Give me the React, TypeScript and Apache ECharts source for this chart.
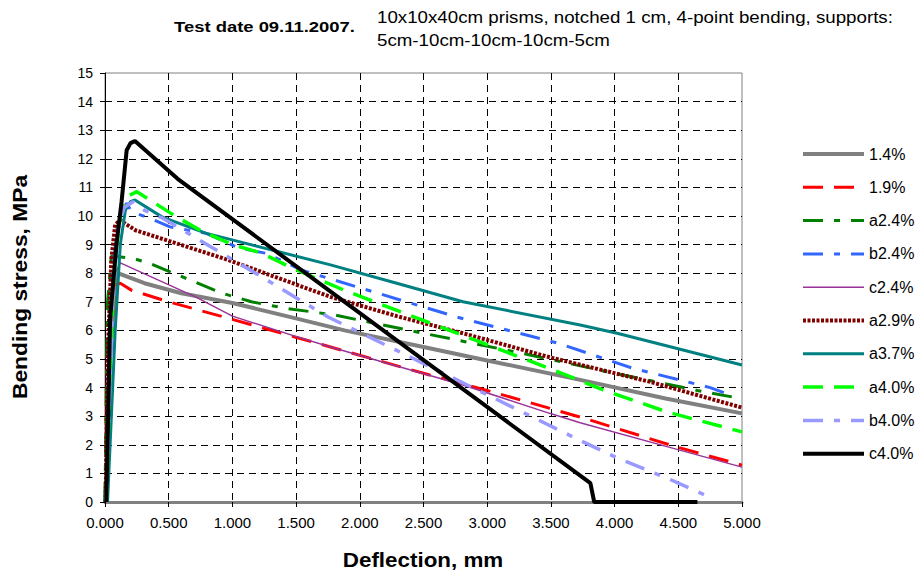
import React, { useEffect, useRef } from "react";
import * as echarts from "echarts";

// ---- Data (deflection mm, bending stress MPa) ----
const seriesNames = ["1.4%", "1.9%", "a2.4%", "b2.4%", "c2.4%", "a2.9%", "a3.7%", "a4.0%", "b4.0%", "c4.0%"];

const d14 = [0.0, 0.02, 0.04, 0.07, 0.1, 0.31, 0.6, 1.0, 1.49, 1.88, 2.5, 3.0, 3.73, 4.4, 5.0];
const s14 = [0.0, 2.0, 5.0, 7.0, 8.0, 7.65, 7.3, 6.96, 6.43, 6.0, 5.42, 4.95, 4.27, 3.62, 3.1];

const d19 = [0.01, 0.03, 0.05, 0.08, 0.12, 0.21, 0.5, 1.02, 1.49, 1.77, 2.5, 3.0, 3.73, 4.49, 5.0];
const s19 = [0.0, 3.0, 6.0, 7.6, 7.65, 7.4, 7.0, 6.36, 5.77, 5.42, 4.5, 3.9, 2.97, 1.92, 1.29];

const da24 = [0.0, 0.01, 0.02, 0.05, 0.21, 0.34, 0.92, 1.15, 1.41, 1.8, 2.5, 3.23, 3.95, 4.65, 4.95];
const sa24 = [0.0, 4.0, 7.0, 8.6, 8.53, 8.36, 7.3, 7.0, 6.78, 6.54, 5.9, 5.24, 4.55, 3.9, 3.65];

const db24 = [0.01, 0.03, 0.06, 0.1, 0.17, 0.21, 0.33, 0.51, 0.79, 1.05, 1.26, 1.55, 1.77, 2.76, 3.55, 4.14, 4.75, 4.93];
const sb24 = [0.0, 4.0, 8.0, 9.8, 10.45, 10.14, 9.96, 9.62, 9.4, 8.88, 8.7, 8.1, 7.8, 6.47, 5.56, 4.68, 4.0, 3.7];

const dc24 = [0.005, 0.02, 0.04, 0.06, 0.12, 0.71, 1.0, 1.49, 1.77, 2.81, 3.49, 3.73, 4.49, 5.0];
const sc24 = [0.0, 5.0, 7.0, 7.8, 8.36, 7.17, 6.5, 5.8, 5.42, 4.09, 3.1, 2.77, 1.84, 1.22];

const da29 = [0.005, 0.02, 0.05, 0.08, 0.12, 0.17, 0.24, 0.97, 1.77, 2.29, 2.81, 3.5, 4.28, 5.0];
const sa29 = [0.0, 5.0, 8.5, 9.7, 9.86, 9.7, 9.5, 8.46, 7.17, 6.5, 5.9, 5.05, 4.2, 3.3];

const da37 = [0.02, 0.04, 0.06, 0.08, 0.1, 0.12, 0.16, 0.2, 0.235, 0.45, 0.79, 1.77, 2.29, 2.81, 3.73, 4.02, 5.0];
const sa37 = [0.0, 2.0, 4.0, 6.0, 7.5, 9.0, 10.2, 10.5, 10.56, 9.96, 9.4, 8.29, 7.65, 7.0, 6.19, 5.9, 4.79];

const da40 = [0.01, 0.03, 0.05, 0.08, 0.12, 0.18, 0.25, 0.55, 0.76, 1.0, 1.23, 1.47, 1.88, 2.55, 3.0, 3.5, 3.91, 4.41, 5.0];
const sa40 = [0.0, 3.0, 6.0, 8.5, 10.0, 10.7, 10.85, 10.0, 9.47, 9.0, 8.7, 8.18, 7.4, 6.26, 5.5, 4.65, 3.92, 3.15, 2.45];

const db40 = [0.01, 0.03, 0.06, 0.1, 0.15, 0.22, 0.31, 0.45, 0.84, 1.23, 1.75, 2.29, 3.0, 3.73, 4.04, 4.41, 4.77];
const sb40 = [0.0, 3.0, 7.0, 9.5, 10.3, 10.5, 10.2, 9.93, 8.9, 7.87, 6.47, 5.3, 3.75, 2.15, 1.5, 0.84, 0.12];

const dc40 = [0.01, 0.025, 0.04, 0.09, 0.13, 0.17, 0.2, 0.235, 0.57, 3.81, 3.84, 4.65];
const sc40 = [0.0, 3.0, 6.4, 9.0, 10.5, 12.3, 12.55, 12.62, 11.3, 0.66, 0.0, 0.0];

const xTicks = { min: 0, max: 5, interval: 0.5 };
const yTicks = { min: 0, max: 15, interval: 1 };

const titleText = "Test date 09.11.2007.";
const subtitleLines = ["10x10x40cm prisms, notched 1 cm, 4-point bending, supports:", "5cm-10cm-10cm-10cm-5cm"];
const xTitle = "Deflection, mm";
const yTitle = "Bending stress, MPa";

const zip = (xs: number[], ys: number[]) => xs.map((x, i) => [x, ys[i]]);

const seriesData = [
  zip(d14, s14), zip(d19, s19), zip(da24, sa24), zip(db24, sb24), zip(dc24, sc24),
  zip(da29, sa29), zip(da37, sa37), zip(da40, sa40), zip(db40, sb40), zip(dc40, sc40),
];

const styles: any[] = [
  { color: "#808080", width: 4, type: "solid" },
  { color: "#FF0000", width: 3, type: [20, 11] },
  { color: "#008000", width: 3, type: [20, 11, 6, 11] },
  { color: "#3366FF", width: 3, type: [20, 11, 6, 11] },
  { color: "#993399", width: 1.5, type: "solid" },
  { color: "#800000", width: 4, type: [3, 1.5] },
  { color: "#008080", width: 3, type: "solid" },
  { color: "#00FF00", width: 3.5, type: [20, 11] },
  { color: "#9999FF", width: 3.5, type: [20, 11, 6, 11] },
  { color: "#000000", width: 4, type: "solid" },
];

const FONT = "'Liberation Sans', Arial, sans-serif";

export default function App() {
  const ref = useRef<HTMLDivElement>(null);
  useEffect(() => {
    if (!ref.current) return;
    const chart = echarts.init(ref.current, undefined, { renderer: "svg" });
    chart.setOption({
      animation: false,
      backgroundColor: "#ffffff",
      textStyle: { fontFamily: FONT },
      grid: {
        left: 105, right: 178, top: 73, bottom: 71,
        show: true, borderColor: "#808080", borderWidth: 1, backgroundColor: "transparent",
      },
      legend: {
        orient: "vertical",
        left: 801,
        top: 146,
        itemWidth: 61,
        itemHeight: 14,
        itemGap: 17.3,
        padding: 0,
        itemStyle: { opacity: 0 },
        textStyle: { fontSize: 16, color: "#000", fontFamily: FONT },
        data: seriesNames.map((name, i) => ({
          name,
          lineStyle: { width: styles[i].width, type: styles[i].type, color: styles[i].color },
        })),
      },
      graphic: [
        { type: "text", x: 174, y: 27, scaleX: 1.19, style: { text: titleText, font: `bold 15.5px ${FONT}`, fill: "#000", align: "left", verticalAlign: "middle" } },
        { type: "text", x: 377, y: 17, scaleX: 1.17, style: { text: subtitleLines[0], font: `16px ${FONT}`, fill: "#000", align: "left", verticalAlign: "middle" } },
        { type: "text", x: 377, y: 40, scaleX: 1.17, style: { text: subtitleLines[1], font: `16px ${FONT}`, fill: "#000", align: "left", verticalAlign: "middle" } },
        { type: "text", x: 423, y: 560, scaleX: 1.12, style: { text: xTitle, font: `bold 20px ${FONT}`, fill: "#000", align: "center", verticalAlign: "middle" } },
        { type: "text", x: 20, y: 287, rotation: Math.PI / 2, scaleX: 1.14, style: { text: yTitle, font: `bold 20px ${FONT}`, fill: "#000", align: "center", verticalAlign: "middle" } },
      ],
      xAxis: {
        type: "value",
        min: xTicks.min, max: xTicks.max, interval: xTicks.interval,
        axisLine: { onZero: false, lineStyle: { color: "#808080", width: 3 } },
        axisTick: { show: true, length: 5, lineStyle: { color: "#000" } },
        axisLabel: { fontSize: 15, color: "#000", margin: 13, formatter: (v: number) => v.toFixed(3) },
        splitLine: { show: true, showMinLine: false, showMaxLine: false, lineStyle: { color: "#000", type: [7, 5], width: 1 } },
      },
      yAxis: {
        type: "value",
        min: yTicks.min, max: yTicks.max, interval: yTicks.interval,
        axisLine: { show: true, onZero: false, lineStyle: { color: "#000", width: 1 } },
        axisTick: { show: true, length: 5, lineStyle: { color: "#000" } },
        axisLabel: { fontSize: 14, color: "#000", margin: 12 },
        splitLine: { show: true, showMinLine: false, showMaxLine: false, lineStyle: { color: "#000", type: [7, 5], width: 1 } },
      },
      series: seriesNames.map((name, i) => ({
        name,
        type: "line",
        data: seriesData[i],
        symbol: "none",
        showSymbol: false,
        smooth: false,
        lineStyle: styles[i],
        itemStyle: { color: styles[i].color },
        z: 2 + i,
      })),
    });
    return () => chart.dispose();
  }, []);
  return (
    <div
      ref={ref}
      style={{ position: "absolute", left: 0, top: 0, width: 920, height: 573, overflow: "hidden" }}
    />
  );
}
